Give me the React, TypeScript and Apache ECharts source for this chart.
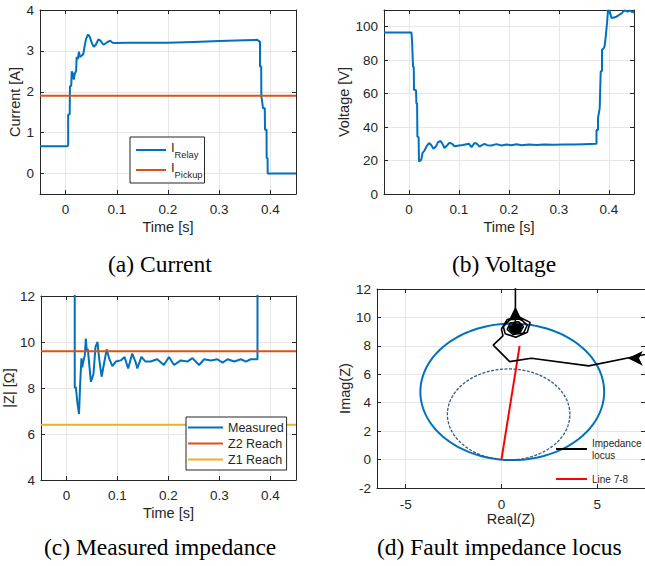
import React, { useEffect, useRef } from "react";
import * as echarts from "echarts";

const FONT = "'Liberation Sans', Arial, Helvetica, sans-serif";
const SERIF = "'Liberation Serif', 'Times New Roman', serif";
const AX = "#262626";
const GRIDC = "#e6e6e6";
const BLUE = "#0072BD";
const ORANGE = "#D95319";
const YELLOW = "#EDB120";

// (a) Current
const currentTime = [-0.05, 0.004, 0.005, 0.005, 0.008, 0.0085, 0.011, 0.012, 0.014, 0.016, 0.018, 0.0205, 0.0216, 0.024, 0.026, 0.028, 0.031, 0.0345, 0.037, 0.04, 0.044, 0.047, 0.051, 0.055, 0.059, 0.064, 0.068, 0.074, 0.08, 0.087, 0.092, 0.097, 0.12, 0.15, 0.2, 0.25, 0.3, 0.35, 0.3745, 0.3765, 0.3797, 0.3797, 0.382, 0.3823, 0.3843, 0.3855, 0.389, 0.3895, 0.3925, 0.3927, 0.3945, 0.3947, 0.45];
const currentRelay = [0.67, 0.67, 0.7, 1.44, 1.45, 2.13, 2.15, 2.5, 2.45, 2.3, 2.45, 2.5, 2.85, 2.8, 2.98, 2.85, 2.88, 2.92, 3.1, 3.3, 3.4, 3.35, 3.2, 3.1, 3.15, 3.28, 3.25, 3.15, 3.2, 3.25, 3.2, 3.19, 3.2, 3.2, 3.2, 3.22, 3.24, 3.26, 3.27, 3.25, 3.22, 2.62, 2.62, 1.89, 1.72, 1.6, 1.6, 1.07, 1.07, 0.38, 0.38, 0, 0];
const pickupCurrent = 1.9;

// (b) Voltage
const voltageTime = [-0.05, 0.0048, 0.006, 0.007, 0.008, 0.0095, 0.01, 0.014, 0.0148, 0.0162, 0.0168, 0.0192, 0.02, 0.023, 0.0248, 0.027, 0.031, 0.035, 0.04, 0.044, 0.049, 0.054, 0.058, 0.063, 0.067, 0.071, 0.076, 0.081, 0.086, 0.091, 0.1, 0.108, 0.115, 0.12, 0.125, 0.131, 0.136, 0.141, 0.146, 0.151, 0.156, 0.165, 0.175, 0.185, 0.195, 0.205, 0.215, 0.225, 0.24, 0.255, 0.27, 0.29, 0.31, 0.33, 0.35, 0.375, 0.375, 0.378, 0.378, 0.3814, 0.3834, 0.386, 0.386, 0.389, 0.391, 0.3934, 0.396, 0.398, 0.401, 0.405, 0.41, 0.415, 0.42, 0.425, 0.431, 0.437, 0.441, 0.445, 0.45];
const voltage = [96.6, 96.6, 92.2, 92, 76.2, 76, 62.3, 62, 54.3, 54, 34.3, 34, 19.5, 20, 20.8, 24.5, 26, 28.5, 30.4, 29.5, 27, 28.5, 31, 31.7, 30, 27.5, 29, 30.7, 30, 28.6, 29, 29.3, 29.8, 30, 28, 30.5, 30, 28.3, 29.2, 30, 29.2, 29, 29.8, 29, 29.6, 29.2, 29.7, 29.1, 29.6, 29.3, 29.6, 29.4, 29.6, 29.6, 29.8, 30, 38.3, 38.3, 45.3, 51.3, 73.2, 73.5, 86.2, 87, 88, 94, 102, 109.5, 109.8, 105.2, 105.5, 106, 107, 108, 109.8, 109, 109.6, 109, 108.5];

// (c) Measured impedance
const impTime = [0.0163, 0.0163, 0.0184, 0.0216, 0.0247, 0.0267, 0.0294, 0.031, 0.0345, 0.036, 0.038, 0.04, 0.042, 0.044, 0.048, 0.053, 0.057, 0.061, 0.064, 0.069, 0.074, 0.079, 0.0835, 0.09, 0.0967, 0.1065, 0.114, 0.121, 0.129, 0.136, 0.139, 0.147, 0.155, 0.165, 0.178, 0.191, 0.201, 0.211, 0.224, 0.237, 0.247, 0.26, 0.27, 0.283, 0.296, 0.306, 0.316, 0.329, 0.342, 0.352, 0.361, 0.3745, 0.3745];
const impMeasured = [40, 8.0, 8.05, 7.34, 6.87, 8.06, 9.29, 8.9, 9.3, 9.4, 10.15, 9.6, 9.7, 9.2, 8.27, 8.6, 9.79, 10.0, 9.3, 8.49, 9.1, 9.68, 9.3, 8.95, 9.15, 9.2, 9.35, 8.85, 9.5, 9.1, 8.85, 9.35, 9.15, 9.15, 9.25, 9.0, 9.35, 9.0, 9.2, 9.15, 9.3, 9.0, 9.25, 9.2, 9.25, 9.1, 9.25, 9.15, 9.25, 9.15, 9.25, 9.25, 40];
const z2Reach = 9.6;
const z1Reach = 6.4;

// (d) Fault impedance locus
const locusReal = [9.0, 4.56, 1.56, 0.43, -0.43, 0.08, 0.0, 0.3, 0.9, 1.5, 1.35, 0.75, 0.2, 0.1, 0.45, 1.0, 1.35, 1.15, 0.6, 0.3, 0.45, 0.9, 1.15, 0.95, 0.55, 0.42, 0.7, 1.02, 1.02, 0.7, 0.48, 0.58, 0.88, 0.98, 0.75, 0.55, 0.62, 0.86, 0.92, 0.74, 0.6, 0.68, 0.84, 0.82, 0.7, 0.66, 0.76, 0.8, 0.73, 0.73, 0.73];
const locusImag = [7.8, 6.59, 7.13, 6.89, 8.05, 8.7, 9.2, 9.85, 10.05, 9.65, 8.95, 8.6, 8.85, 9.35, 9.85, 9.9, 9.45, 8.9, 8.8, 9.15, 9.6, 9.7, 9.35, 8.95, 9.0, 9.3, 9.58, 9.46, 9.08, 8.92, 9.15, 9.45, 9.48, 9.2, 8.98, 9.12, 9.4, 9.4, 9.15, 9.02, 9.18, 9.36, 9.3, 9.12, 9.12, 9.28, 9.3, 9.18, 9.22, 12.0, 14.0];
// dense core of the spiral
const blobReal = [0.73];
const blobImag = [9.2];
// arrowheads on the locus (direction of travel)
const arrowLeftAt = [6.6, 7.12];
const arrowUpAt = [0.73, 10.75];
const lineRealEnd = 0.95;
const lineImagEnd = 8.0;

const zip = (a: number[], b: number[]) => a.map((v, i) => [v, b[i]]);

// Mho circles: through origin, diameter = reach along line angle
const lineAngle = Math.atan2(lineImagEnd, lineRealEnd);
const mho = (reach: number) => {
  const r = reach / 2;
  const cx = r * Math.cos(lineAngle);
  const cy = r * Math.sin(lineAngle);
  const pts: number[][] = [];
  for (let k = 0; k <= 180; k++) {
    const a = (k / 180) * 2 * Math.PI;
    pts.push([cx + r * Math.cos(a), cy + r * Math.sin(a)]);
  }
  return pts;
};

type AxCfg = {
  min: number; max: number; interval?: number; fixed?: number;
  name: string; nameGap: number; margin: number;
  hideMin?: boolean; hideMax?: boolean;
};

function makeAxis(kind: "x" | "y", gridIndex: number, c: AxCfg, main: boolean) {
  const base: any = {
    type: "value",
    gridIndex,
    min: c.min,
    max: c.max,
    position: kind === "x" ? (main ? "bottom" : "top") : main ? "left" : "right",
    axisLine: { show: true, onZero: false, lineStyle: { color: AX, width: 1 } },
    axisTick: { show: true, inside: true, length: 4, lineStyle: { color: AX, width: 1 } },
    axisLabel: {
      show: main,
      color: AX,
      fontSize: 13.5,
      fontFamily: FONT,
      margin: c.margin,
      showMinLabel: !c.hideMin,
      showMaxLabel: !c.hideMax,
    },
    splitLine: { show: main, lineStyle: { color: GRIDC, width: 1 } },
  };
  if (c.interval !== undefined) base.interval = c.interval;
  if (c.fixed !== undefined) {
    base.minInterval = c.fixed;
    base.maxInterval = c.fixed;
  }
  if (main) {
    base.name = c.name;
    base.nameLocation = "middle";
    base.nameGap = c.nameGap;
    base.nameTextStyle = { color: AX, fontSize: 14.5, fontFamily: FONT };
  }
  return base;
}

const timeAxis = (nameGap: number): AxCfg => ({
  min: -0.05, max: 0.45, fixed: 0.1, name: "Time [s]", nameGap, margin: 8, hideMin: true, hideMax: true,
});

const panels: { x: AxCfg; y: AxCfg }[] = [
  { x: timeAxis(25), y: { min: -0.5, max: 4, fixed: 1, name: "Current [A]", nameGap: 18, margin: 6, hideMin: true } },
  { x: timeAxis(25), y: { min: 0, max: 110, interval: 20, name: "Voltage [V]", nameGap: 30, margin: 6, hideMax: true } },
  { x: timeAxis(25), y: { min: 4, max: 12, interval: 2, name: "|Z| [Ω]", nameGap: 22, margin: 6 } },
  { x: { min: -6.5, max: 7.5, fixed: 5, name: "Real(Z)", nameGap: 19, margin: 9, hideMin: true, hideMax: true },
    y: { min: -2, max: 12, interval: 2, name: "Imag(Z)", nameGap: 23, margin: 6 } },
];

export default function App() {
  const ref = useRef<HTMLDivElement>(null);
  useEffect(() => {
    if (!ref.current) return;
    const chart = echarts.init(ref.current, undefined, { renderer: "svg" });
    const xAxis: any[] = [];
    const yAxis: any[] = [];
    panels.forEach((p, i) => {
      xAxis.push(makeAxis("x", i, p.x, true));
      xAxis.push(makeAxis("x", i, p.x, false));
      yAxis.push(makeAxis("y", i, p.y, true));
      yAxis.push(makeAxis("y", i, p.y, false));
    });
    const lineSeries = (name: string, idx: number, data: number[][], color: string, width = 2, extra: any = {}) => ({
      name,
      type: "line",
      xAxisIndex: idx * 2,
      yAxisIndex: idx * 2,
      data,
      symbol: "none",
      showSymbol: false,
      silent: true,
      clip: true,
      lineStyle: { color, width },
      itemStyle: { color },
      ...extra,
    });
    const legendBase = {
      orient: "vertical",
      icon: "rect",
      itemHeight: 2,
      selectedMode: false,
      borderRadius: 0,
    };
    // locus series carries its arrowheads as markPoints
    const locus: any = lineSeries("Impedance locus", 3, zip(locusReal, locusImag), "#000000", 1.6);
    locus.markPoint = {
      silent: true,
      symbol: "arrow",
      symbolSize: [11, 15],
      itemStyle: { color: "#000000" },
      label: { show: false },
      data: [
        { coord: arrowLeftAt, symbolRotate: 90 },
        { coord: arrowUpAt, symbolRotate: 0 },
      ],
    };
    const option: any = {
      animation: false,
      backgroundColor: "#ffffff",
      grid: [
        { left: 40, top: 10, width: 256, height: 184 },
        { left: 384, top: 10, width: 250, height: 184 },
        { left: 40, top: 296, width: 256, height: 184 },
        { left: 377, top: 289, width: 269, height: 199 },
      ],
      xAxis,
      yAxis,
      legend: [
        {
          ...legendBase,
          data: ["I_Relay", "I_Pickup"],
          left: 130,
          top: 137,
          padding: [4, 2, 4, 6],
          itemGap: 2,
          itemWidth: 30,
          backgroundColor: "#ffffff",
          borderColor: AX,
          borderWidth: 1,
          formatter: (n: string) => (n === "I_Relay" ? "{m|I}{s|Relay}" : "{m|I}{s|Pickup}"),
          textStyle: {
            fontFamily: FONT,
            color: AX,
            rich: {
              m: { fontSize: 13, fontFamily: FONT, color: AX, verticalAlign: "top", lineHeight: 18 },
              s: { fontSize: 9.3, fontFamily: FONT, color: AX, verticalAlign: "bottom", lineHeight: 9 },
            },
          },
        },
        {
          ...legendBase,
          data: ["Measured", "Z2 Reach", "Z1 Reach"],
          left: 186,
          top: 417,
          padding: [3, 3, 3, 2],
          itemGap: 1,
          itemWidth: 35,
          backgroundColor: "#ffffff",
          borderColor: AX,
          borderWidth: 1,
          textStyle: { fontFamily: FONT, color: AX, fontSize: 12.5, lineHeight: 15 },
        },
        {
          ...legendBase,
          data: ["Impedance locus"],
          left: 556,
          top: 437,
          padding: 0,
          itemWidth: 31,
          formatter: () => "Impedance\nlocus",
          textStyle: { fontFamily: FONT, color: AX, fontSize: 10, lineHeight: 12 },
        },
        {
          ...legendBase,
          data: ["Line 7-8"],
          left: 556,
          top: 473,
          padding: 0,
          itemWidth: 31,
          textStyle: { fontFamily: FONT, color: AX, fontSize: 10, lineHeight: 12 },
        },
      ],
      series: [
        lineSeries("I_Relay", 0, zip(currentTime, currentRelay), BLUE),
        lineSeries("I_Pickup", 0, [[-0.05, pickupCurrent], [0.45, pickupCurrent]], ORANGE),
        lineSeries("Voltage", 1, zip(voltageTime, voltage), BLUE),
        lineSeries("Measured", 2, zip(impTime, impMeasured), BLUE),
        lineSeries("Z2 Reach", 2, [[-0.05, z2Reach], [0.45, z2Reach]], ORANGE),
        lineSeries("Z1 Reach", 2, [[-0.05, z1Reach], [0.45, z1Reach]], YELLOW),
        lineSeries("Z2 circle", 3, mho(z2Reach), BLUE, 2),
        lineSeries("Z1 circle", 3, mho(z1Reach), "#2b5d8c", 1.3, { lineStyle: { color: "#2b5d8c", width: 1.3, type: [3, 1.5] } }),
        lineSeries("Line 7-8", 3, [[0, 0], [lineRealEnd, lineImagEnd]], "#ff0000", 2),
        locus,
        {
          name: "blob",
          type: "scatter",
          xAxisIndex: 6,
          yAxisIndex: 6,
          silent: true,
          symbol: "circle",
          symbolSize: [14, 11],
          itemStyle: { color: "#000000" },
          data: zip(blobReal, blobImag),
        },
      ],
      graphic: [
        { type: "text", left: 108, top: 252, style: { text: "(a) Current", font: `23.5px ${SERIF}`, fill: "#000" } },
        { type: "text", left: 452, top: 252, style: { text: "(b) Voltage", font: `23.5px ${SERIF}`, fill: "#000" } },
        { type: "text", left: 44, top: 535, style: { text: "(c) Measured impedance", font: `23.5px ${SERIF}`, fill: "#000" } },
        { type: "text", left: 377, top: 535, style: { text: "(d) Fault impedance locus", font: `23.5px ${SERIF}`, fill: "#000" } },
      ],
    };
    chart.setOption(option);
    return () => chart.dispose();
  }, []);
  return (
    <div
      ref={ref}
      style={{ position: "fixed", left: 0, top: 0, width: 645, height: 566, background: "#fff" }}
    />
  );
}
